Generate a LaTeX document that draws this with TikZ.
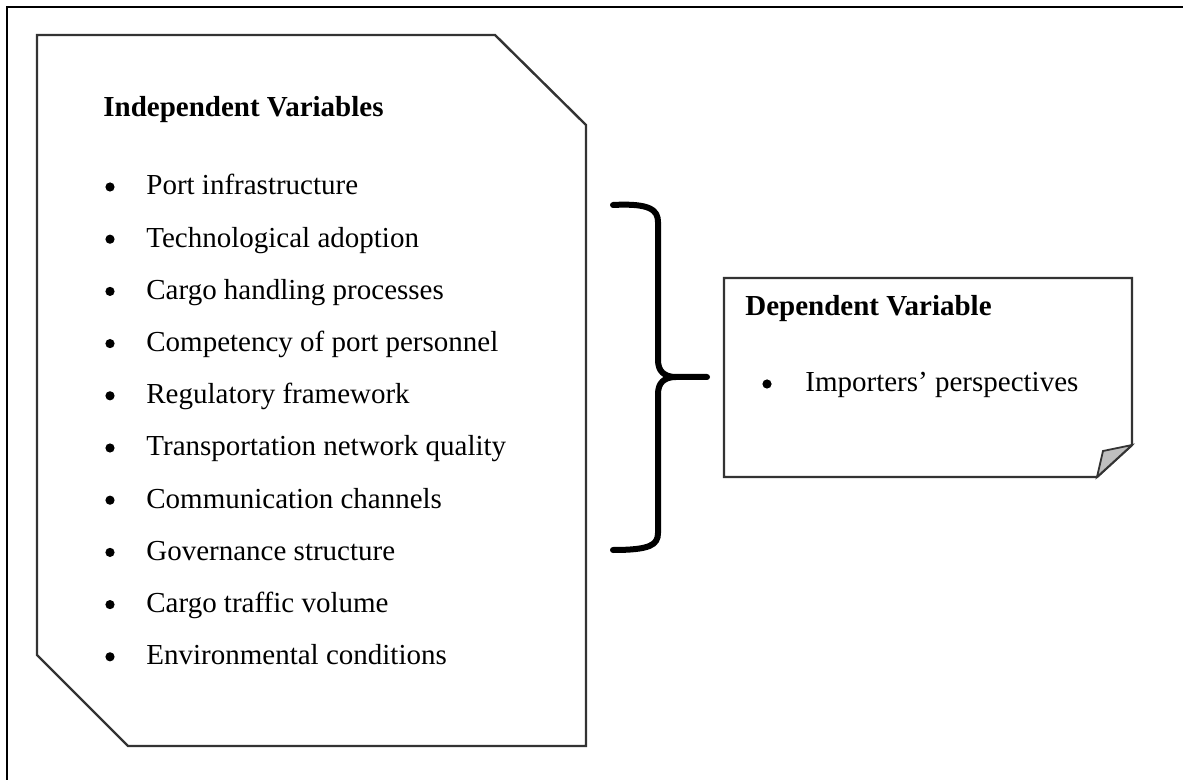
\documentclass[tikz,border=0pt]{standalone}
\usepackage{fontspec}
\setmainfont{Liberation Serif}
\usetikzlibrary{calc}
\tikzset{
  vartext/.style={anchor=base west, inner sep=0pt, font=\fontsize{14.5}{17}\selectfont},
  varhead/.style={vartext, font=\fontsize{14.5}{17}\selectfont\bfseries},
  varbullet/.style={circle, fill=black, inner sep=0pt, minimum size=4.6pt}
}
\begin{document}
\begin{tikzpicture}[x=0.5pt, y=-0.5pt]
			%%%%% START %%%%%
			\useasboundingbox (0, 0) rectangle (1183, 780);
			\clip (0, 0) rectangle (1183, 780);
			
			% outer frame (runs off the page on the right and bottom)
			\draw[line width=1pt] (7, 7) rectangle (1195, 795);
			
			% independent variables box
			\draw[line width=1.2pt, color=black!80] (37, 35) -- (495, 35) -- (586, 125) -- (586, 746)
			  -- (128, 746) -- (37, 655) -- cycle;
			
			\node[varhead] (indep) at (103, 117) {Independent Variables};
			\foreach \item [count=\i] in {Port infrastructure, Technological adoption,
			    Cargo handling processes, Competency of port personnel, Regulatory framework,
			    Transportation network quality, Communication channels, Governance structure,
			    Cargo traffic volume, Environmental conditions}{
			  \node[varbullet] (ivb\i) at (110, {187 + 52.2*(\i-1)}) {};
			  \node[vartext] (iv\i) at (146, {195 + 52.2*(\i-1)}) {\item};
			}
			
			% brace
			\draw[line width=3pt, line cap=round, line join=round]
			  (613, 205) .. controls (650, 203) and (658, 210) .. (658, 222) -- (658, 360)
			  .. controls (658, 371) and (664, 377) .. (676, 377) -- (707, 377);
			\draw[line width=3pt, line cap=round, line join=round]
			  (676, 377) .. controls (664, 377) and (658, 383) .. (658, 394) -- (658, 533)
			  .. controls (658, 545) and (650, 550) .. (613, 550);
			
			% dependent variable box with folded corner
			\draw[line width=1.2pt, color=black!80] (724, 278) -- (1132, 278) -- (1132, 445)
			  -- (1097, 477) -- (724, 477) -- cycle;
			\draw[line width=0.9pt, color=black!80, fill=black!25] (1097, 477) -- (1103, 451) -- (1132, 445) -- cycle;
			
			\node[varhead] (dep) at (745, 316) {Dependent Variable};
			\node[varbullet] (dvb1) at (767, 384) {};
			\node[vartext] (dv1) at (805, 392) {Importers’ perspectives};
			
			%%%%% END %%%%%
\end{tikzpicture}
\end{document}
